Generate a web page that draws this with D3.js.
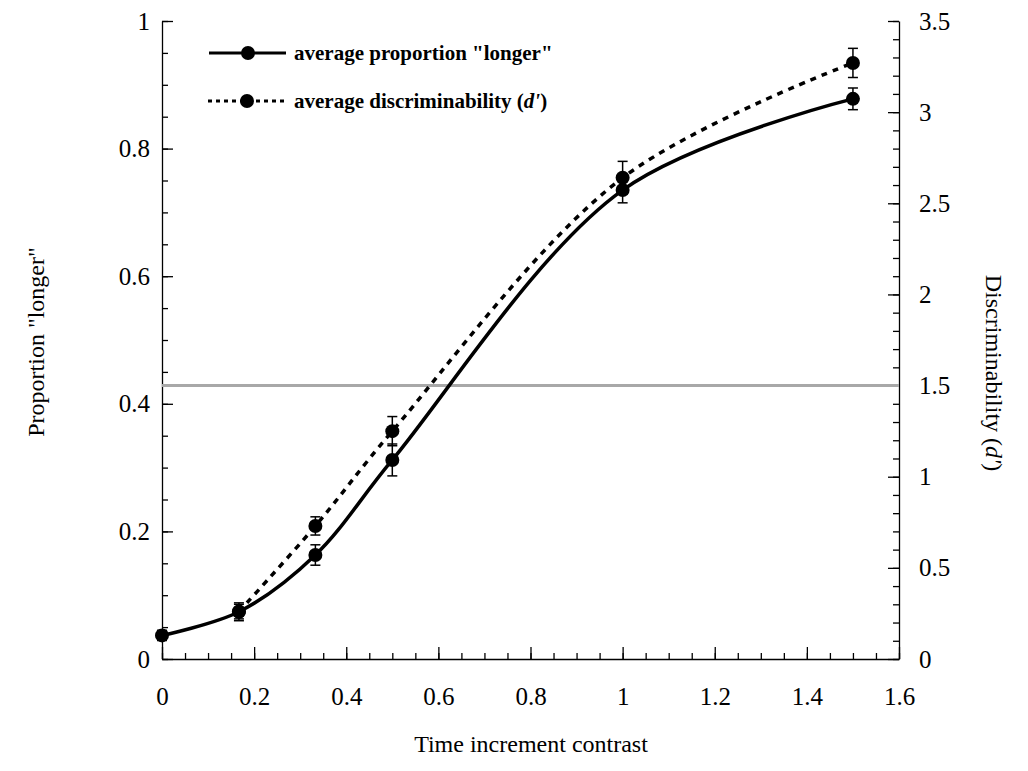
<!DOCTYPE html>
<html>
<head>
<meta charset="utf-8">
<script src="https://cdn.jsdelivr.net/npm/d3@7"></script>
<style>
  body { margin: 0; background: #fff; }
  svg { font-family: "Liberation Serif", "Times New Roman", serif; }
  .axis path, .axis line { stroke: #000; stroke-width: 1.3; }
  .axis text { font-family: "Liberation Serif", "Times New Roman", serif; font-size: 25px; fill: #000; }
</style>
</head>
<body>
<div id="chart"></div>
<script>
// time increment contrast levels
var xVals = [0, 0.167, 0.333, 0.5, 1, 1.5];
// average proportion "longer" (left axis) with error bars
var propLonger = [0.037, 0.074, 0.163, 0.312, 0.735, 0.878];
var propErr = [0.008, 0.014, 0.016, 0.025, 0.02, 0.017];
// average d' (right axis) with error bars
var dX = [0.167, 0.333, 0.5, 1, 1.5];
var dPrime = [0.26, 0.73, 1.25, 2.64, 3.27];
var dErr = [0.04, 0.05, 0.08, 0.09, 0.08];
var refD = 1.5;

var xTicks = [0, 0.2, 0.4, 0.6, 0.8, 1, 1.2, 1.4, 1.6];
var yLeftTicks = [0, 0.2, 0.4, 0.6, 0.8, 1];
var yRightTicks = [0, 0.5, 1, 1.5, 2, 2.5, 3, 3.5];

var W = 1028, H = 771;
var pl = 162, pr = 899, pt = 21, pb = 659;

var svg = d3.select("#chart").append("svg")
  .attr("width", W).attr("height", H);

var x = d3.scaleLinear().domain([0, 1.6]).range([pl, pr]);
var yL = d3.scaleLinear().domain([0, 1]).range([pb, pt]);
var yR = d3.scaleLinear().domain([0, 3.5]).range([pb, pt]);

var fmt = function(d) { return String(+d.toFixed(1)); };

// minor ticks
svg.append("g").attr("class", "axis").attr("transform", "translate(0," + pb + ")")
  .call(d3.axisBottom(x).tickValues(d3.range(0, 1.6001, 0.05)).tickSize(-6).tickFormat(""))
  .select(".domain").remove();
svg.append("g").attr("class", "axis").attr("transform", "translate(" + pl + ",0)")
  .call(d3.axisLeft(yL).tickValues(d3.range(0, 1.0001, 0.05)).tickSize(-6).tickFormat(""))
  .select(".domain").remove();
svg.append("g").attr("class", "axis").attr("transform", "translate(" + pr + ",0)")
  .call(d3.axisRight(yR).tickValues(d3.range(0, 3.5001, 0.1)).tickSize(-6).tickFormat(""))
  .select(".domain").remove();

// major axes
svg.append("g").attr("class", "axis").attr("transform", "translate(0," + pb + ")")
  .call(d3.axisBottom(x).tickValues(xTicks).tickSize(-12).tickPadding(28).tickSizeOuter(0).tickFormat(fmt));
svg.append("g").attr("class", "axis").attr("transform", "translate(" + pl + ",0)")
  .call(d3.axisLeft(yL).tickValues(yLeftTicks).tickSize(-11).tickPadding(12).tickSizeOuter(0).tickFormat(fmt));
svg.append("g").attr("class", "axis").attr("transform", "translate(" + pr + ",0)")
  .call(d3.axisRight(yR).tickValues(yRightTicks).tickSize(-11).tickPadding(20).tickSizeOuter(0).tickFormat(fmt));

// reference line at d' = 1.5
svg.append("line")
  .attr("x1", pl).attr("x2", pr)
  .attr("y1", yR(refD)).attr("y2", yR(refD))
  .attr("stroke", "#a8a8a8").attr("stroke-width", 3);

var propData = xVals.map(function(v, i) { return { x: v, y: propLonger[i], e: propErr[i] }; });
var dData = dX.map(function(v, i) { return { x: v, y: dPrime[i], e: dErr[i] }; });

// lines
svg.append("path").datum(propData)
  .attr("fill", "none").attr("stroke", "#000").attr("stroke-width", 3.5)
  .attr("d", d3.line().x(function(d) { return x(d.x); }).y(function(d) { return yL(d.y); })
    .curve(d3.curveCatmullRom.alpha(0.5)));
svg.append("path").datum(dData)
  .attr("fill", "none").attr("stroke", "#000").attr("stroke-width", 3.5)
  .attr("stroke-dasharray", "6,6")
  .attr("d", d3.line().x(function(d) { return x(d.x); }).y(function(d) { return yR(d.y); })
    .curve(d3.curveCatmullRom.alpha(0.5)));

// error bars + markers
function drawPoints(data, yScale) {
  var p = svg.append("g").selectAll("g").data(data).enter().append("g");
  p.append("line")
    .attr("x1", function(d) { return x(d.x); }).attr("x2", function(d) { return x(d.x); })
    .attr("y1", function(d) { return yScale(d.y - d.e); }).attr("y2", function(d) { return yScale(d.y + d.e); })
    .attr("stroke", "#000").attr("stroke-width", 1.5);
  [-1, 1].forEach(function(s) {
    p.append("line")
      .attr("x1", function(d) { return x(d.x) - 5; }).attr("x2", function(d) { return x(d.x) + 5; })
      .attr("y1", function(d) { return yScale(d.y + s * d.e); }).attr("y2", function(d) { return yScale(d.y + s * d.e); })
      .attr("stroke", "#000").attr("stroke-width", 1.5);
  });
  p.append("circle")
    .attr("cx", function(d) { return x(d.x); }).attr("cy", function(d) { return yScale(d.y); })
    .attr("r", 7).attr("fill", "#000");
}
drawPoints(propData, yL);
drawPoints(dData, yR);

// legend
var leg = svg.append("g");
leg.append("line").attr("x1", 209).attr("x2", 286).attr("y1", 53).attr("y2", 53)
  .attr("stroke", "#000").attr("stroke-width", 3);
leg.append("circle").attr("cx", 248).attr("cy", 53).attr("r", 7);
leg.append("text").attr("x", 294).attr("y", 60)
  .attr("font-size", 21).attr("font-weight", "bold")
  .text("average proportion \"longer\"");
leg.append("line").attr("x1", 208).attr("x2", 284).attr("y1", 101).attr("y2", 101)
  .attr("stroke", "#000").attr("stroke-width", 3).attr("stroke-dasharray", "4,4");
leg.append("circle").attr("cx", 247).attr("cy", 101).attr("r", 7);
var t2 = leg.append("text").attr("x", 294).attr("y", 108)
  .attr("font-size", 21).attr("font-weight", "bold");
t2.append("tspan").text("average discriminability (");
t2.append("tspan").attr("font-style", "italic").text("d'");
t2.append("tspan").text(")");

// axis titles
svg.append("text").attr("x", 531).attr("y", 752)
  .attr("text-anchor", "middle").attr("font-size", 24)
  .text("Time increment contrast");
svg.append("text").attr("transform", "translate(44,342) rotate(-90)")
  .attr("text-anchor", "middle").attr("font-size", 24)
  .text("Proportion \"longer\"");
var rt = svg.append("text").attr("transform", "translate(986,373) rotate(90)")
  .attr("text-anchor", "middle").attr("font-size", 24);
rt.append("tspan").text("Discriminability (");
rt.append("tspan").attr("font-style", "italic").text("d'");
rt.append("tspan").text(")");
</script>
</body>
</html>
